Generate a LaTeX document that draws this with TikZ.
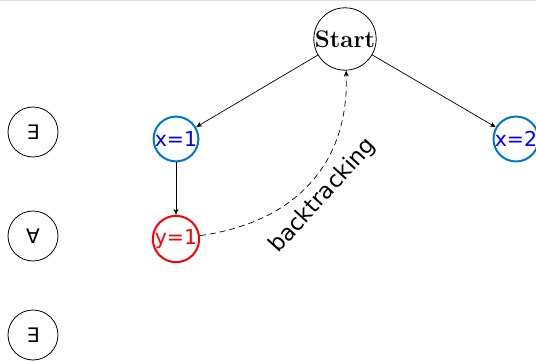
\documentclass[tikz,border=0pt]{standalone}
\usepackage{fontspec}
\setmainfont{DejaVu Sans}
\usetikzlibrary{arrows.meta}
\newfontfamily\lmserif{Latin Modern Roman}
\definecolor{nodeblue}{RGB}{0,120,200}
\tikzset{
  every picture/.style={x=1pt,y=-1pt},
  quant/.style={circle,draw=black,line width=0.8pt,minimum size=50pt,inner sep=0pt,font=\fontsize{20}{20}\selectfont},
  varx/.style={circle,draw=nodeblue,line width=2pt,minimum size=44pt,inner sep=0pt,text=blue,font=\fontsize{20.5}{20.5}\selectfont},
  vary/.style={circle,draw=red,line width=2pt,minimum size=45pt,inner sep=0pt,text=red,font=\fontsize{20.5}{20.5}\selectfont},
  startnode/.style={circle,draw=black,line width=0.8pt,minimum size=60pt,inner sep=0pt,font=\lmserif\bfseries\fontsize{24}{24}\selectfont},
  edge/.style={-{Stealth[length=6pt,width=5pt]},line width=0.7pt},
  lbl/.style={sloped,below,font=\fontsize{22.5}{22.5}\selectfont,inner sep=7pt},
}
\begin{document}
\begin{tikzpicture}
\useasboundingbox (0,0) rectangle (536,361);
\fill[gray!25] (0,0) rectangle (536,1.5);
\node[startnode] (start) at (345,39) {Start};
\node[varx] (x1) at (176,139) {x=1};
\node[varx] (x2) at (516,139) {x=2};
\node[vary] (y1) at (176,239) {y=1};
\node[quant] (q1) at (33,132) {∃};
\node[quant] (q2) at (33,236) {∀};
\node[quant] (q3) at (33,335) {∃};
\draw[edge] (start) -- (x1);
\draw[edge] (start) -- (x2);
\draw[edge] (x1) -- (y1);
\draw[edge,dashed,dash pattern=on 6pt off 4pt] (y1) to[out=8,in=-88,looseness=1.1] node[lbl,pos=0.5] {backtracking} (start);
\end{tikzpicture}
\end{document}
